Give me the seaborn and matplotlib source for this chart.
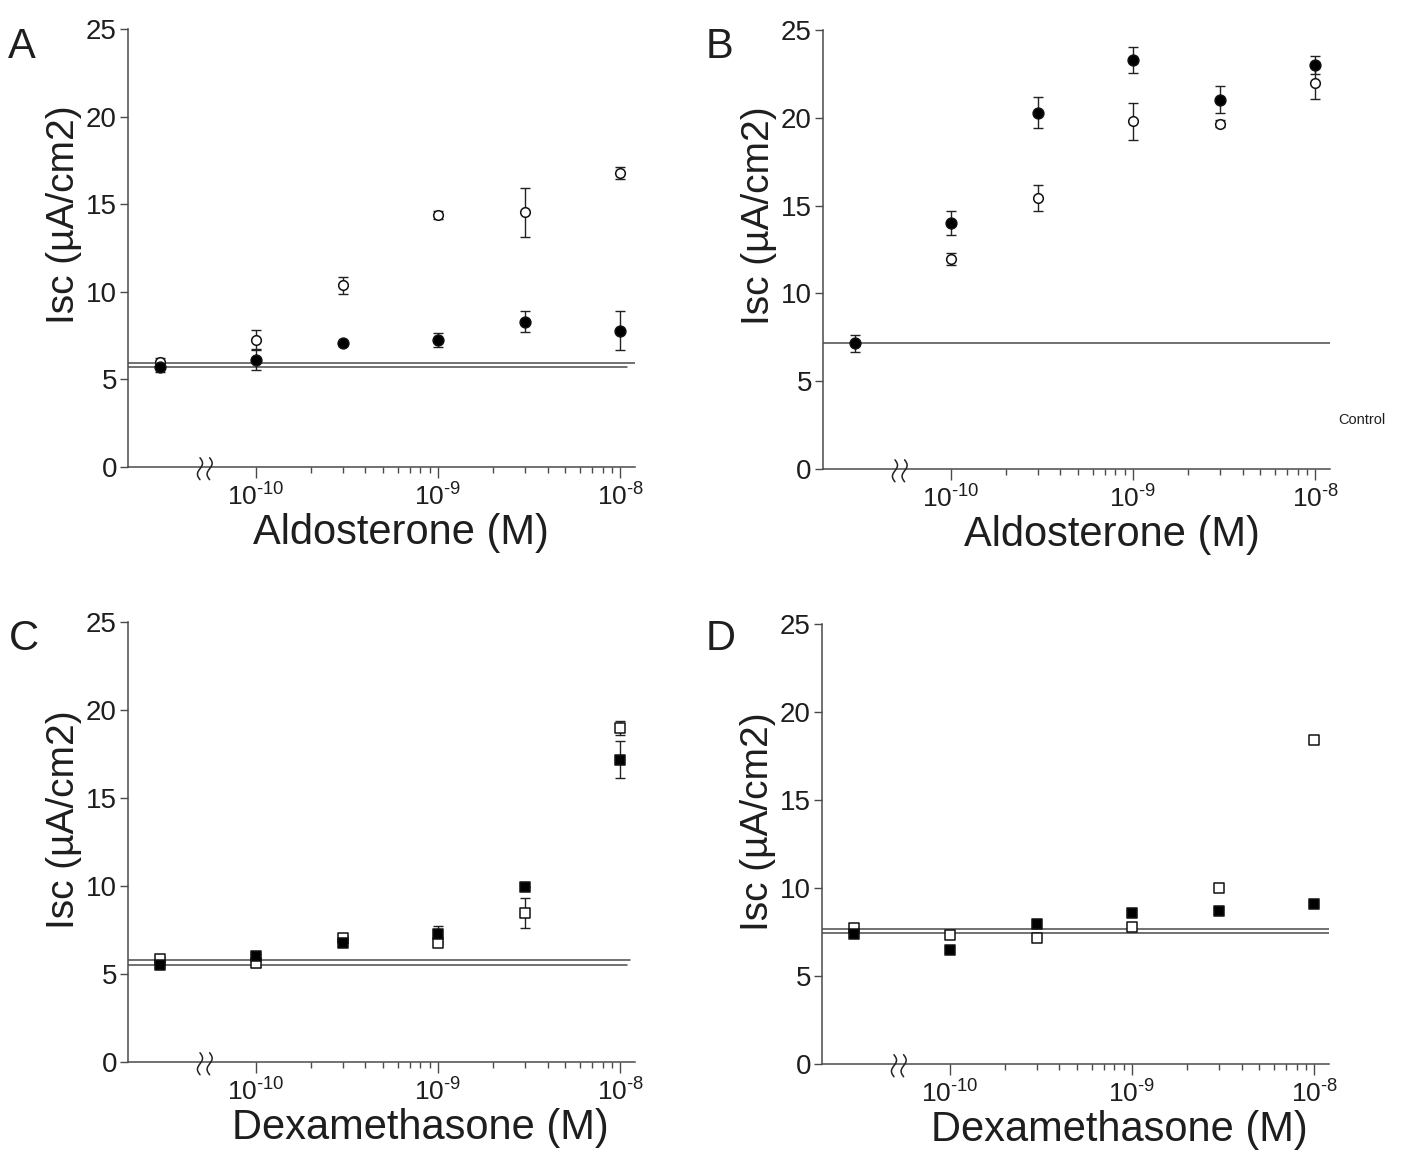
import numpy as np
import pandas as pd
import matplotlib
matplotlib.use("Agg")
import matplotlib.pyplot as plt
import matplotlib.ticker as mticker
import seaborn as sns

#************************************************** Data *******************************************************

# x position of each point (M); first one is the control, drawn left of the axis break
conc = [3e-11, 1e-10, 3e-10, 1e-9, 3e-9, 1e-8]

# A - aldosterone
a_open = [5.97, 7.27, 10.36, 14.38, 14.53, 16.78]
a_open_err = [0.25, 0.55, 0.5, 0.25, 1.4, 0.35]
a_fill = [5.72, 6.10, 7.06, 7.22, 8.30, 7.78]
a_fill_err = [0.3, 0.55, 0.0, 0.4, 0.6, 1.1]
a_base = [5.91, 5.68]

# B - aldosterone
b_open = [np.nan, 11.97, 15.42, 19.80, 19.66, 22.00]
b_open_err = [np.nan, 0.35, 0.75, 1.05, 0.2, 0.95]
b_fill = [7.16, 14.02, 20.30, 23.30, 21.04, 23.00]
b_fill_err = [0.5, 0.67, 0.9, 0.75, 0.75, 0.5]
b_base = [7.2]

# C - dexamethasone
c_open = [5.88, 5.65, 7.07, 6.79, 8.45, 18.98]
c_open_err = [0.1, 0.25, 0.1, 0.1, 0.85, 0.4]
c_fill = [5.52, 6.03, 6.79, 7.26, 9.96, 17.18]
c_fill_err = [0.0, 0.1, 0.0, 0.45, 0.0, 1.05]
c_base = [5.78, 5.52]

# D - dexamethasone (no error bars)
d_open = [7.74, 7.34, 7.13, 7.78, 9.99, 18.39]
d_fill = [7.38, 6.45, 7.97, 8.57, 8.72, 9.08]
d_base = [7.66, 7.44]

x_major = [1e-10, 1e-9, 1e-8]
x_major_labels = ["$\\mathregular{10^{\u201010}}$", "$\\mathregular{10^{\u20109}}$", "$\\mathregular{10^{\u20108}}$"]
y_ticks = [0, 5, 10, 15, 20, 25]

#************************************************** Style *******************************************************

sns.set_theme(style="ticks")
plt.rcParams["font.family"] = ["Liberation Sans", "DejaVu Sans"]
plt.rcParams["mathtext.fontset"] = "custom"
plt.rcParams["mathtext.rm"] = "Liberation Sans"
plt.rcParams["mathtext.it"] = "Liberation Sans:italic"
plt.rcParams["mathtext.bf"] = "Liberation Sans:bold"

AX_COL = "#4a4a4a"
TXT_COL = "#1e1e1e"


def make_df(y, err):
    return pd.DataFrame({"conc": conc, "isc": y, "err": err})


def draw_panel(ax, series, base, xlabel, base_ends, xlab_x, ylab_y):

    # baseline (control) lines across the panel
    for b, end in zip(base, base_ends):
        ax.axhline(b, xmin=0, xmax=end, color=AX_COL, lw=1.1, zorder=1)

    for df, marker, face, size in series:
        d = df.dropna(subset=["isc"])
        if d["err"].notna().any():
            ax.errorbar(d["conc"], d["isc"], yerr=d["err"].fillna(0), fmt="none",
                        ecolor="#222222", elinewidth=1.0, capsize=3.5, capthick=1.0, zorder=2)
        sns.scatterplot(data=d, x="conc", y="isc", marker=marker, s=size, color=face,
                        edgecolor="#111111", linewidth=1.1, ax=ax, zorder=3, legend=False)

    ax.set_xscale("log")
    ax.set_xlim(10 ** -10.7, 10 ** -7.92)
    ax.set_ylim(0, 25)
    ax.set_yticks(y_ticks)
    ax.xaxis.set_major_locator(mticker.FixedLocator(x_major))
    ax.xaxis.set_major_formatter(mticker.FixedFormatter(x_major_labels))
    minors = [k * 10.0 ** e for e in (-10, -9) for k in range(2, 10)]
    ax.xaxis.set_minor_locator(mticker.FixedLocator(minors))
    ax.xaxis.set_minor_formatter(mticker.NullFormatter())

    ax.tick_params(axis="both", which="major", direction="out", length=6, width=1.0,
                   color=AX_COL, labelcolor=TXT_COL)
    ax.tick_params(axis="x", which="major", length=8, pad=4, labelsize=19)
    ax.tick_params(axis="x", which="minor", direction="out", length=4.5, width=1.0, color=AX_COL)
    ax.tick_params(axis="y", pad=2, labelsize=20)

    sns.despine(ax=ax)
    for s in ("left", "bottom"):
        ax.spines[s].set_color(AX_COL)
        ax.spines[s].set_linewidth(1.1)

    ax.set_xlabel(xlabel, fontsize=30, color=TXT_COL)
    ax.xaxis.set_label_coords(xlab_x, -0.104)
    ax.set_ylabel("Isc (µA/cm2)", fontsize=28, color=TXT_COL)
    ax.yaxis.set_label_coords(-0.091, ylab_y)
    ax.grid(False)

    # axis break squiggles
    t = np.linspace(-1, 1, 40)
    for dx in (0.0, 0.019):
        ax.plot(0.142 + dx + 0.005 * np.sin(np.pi * t), -0.004 + 0.025 * t,
                transform=ax.transAxes, color="#222222", lw=1.1, clip_on=False, zorder=5)


#************************************************** Figure *******************************************************

fig = plt.figure(figsize=(14.02, 11.57), dpi=100)

ax_a = fig.add_axes([0.0913, 0.5964, 0.3616, 0.3786])
ax_b = fig.add_axes([0.5870, 0.5946, 0.3616, 0.3795])
ax_c = fig.add_axes([0.0913, 0.0821, 0.3616, 0.3803])
ax_d = fig.add_axes([0.5863, 0.0804, 0.3616, 0.3803])

circ_o, circ_s = 48, 60
sq_s = 62

draw_panel(ax_a,
           [(make_df(a_open, a_open_err), "o", "white", circ_o),
            (make_df(a_fill, a_fill_err), "o", "black", circ_s)],
           a_base, "Aldosterone (M)", [1.0, 0.985], 0.538, 0.575)

draw_panel(ax_b,
           [(make_df(b_open, b_open_err), "o", "white", circ_o),
            (make_df(b_fill, b_fill_err), "o", "black", circ_s)],
           b_base, "Aldosterone (M)", [1.01], 0.57, 0.578)
ax_b.annotate("Control", xy=(1.063, 2.8), xycoords=("axes fraction", "data"),
              ha="center", va="center", fontsize=10.5, color=TXT_COL, annotation_clip=False)

draw_panel(ax_c,
           [(make_df(c_open, c_open_err), "s", "white", sq_s),
            (make_df(c_fill, c_fill_err), "s", "black", sq_s)],
           c_base, "Dexamethasone (M)", [0.99, 0.985], 0.576, 0.55)

draw_panel(ax_d,
           [(make_df(d_open, [np.nan] * 6), "s", "white", sq_s),
            (make_df(d_fill, [np.nan] * 6), "s", "black", sq_s)],
           d_base, "Dexamethasone (M)", [1.01, 1.01], 0.586, 0.55)

# panel letters
for letter, (fx, fy) in zip("ABCD", [(0.006, 0.977), (0.503, 0.977), (0.006, 0.465), (0.503, 0.465)]):
    fig.text(fx, fy, letter, fontsize=30, color=TXT_COL, ha="left", va="top")

fig.savefig("out.png", dpi=100, facecolor="white")
